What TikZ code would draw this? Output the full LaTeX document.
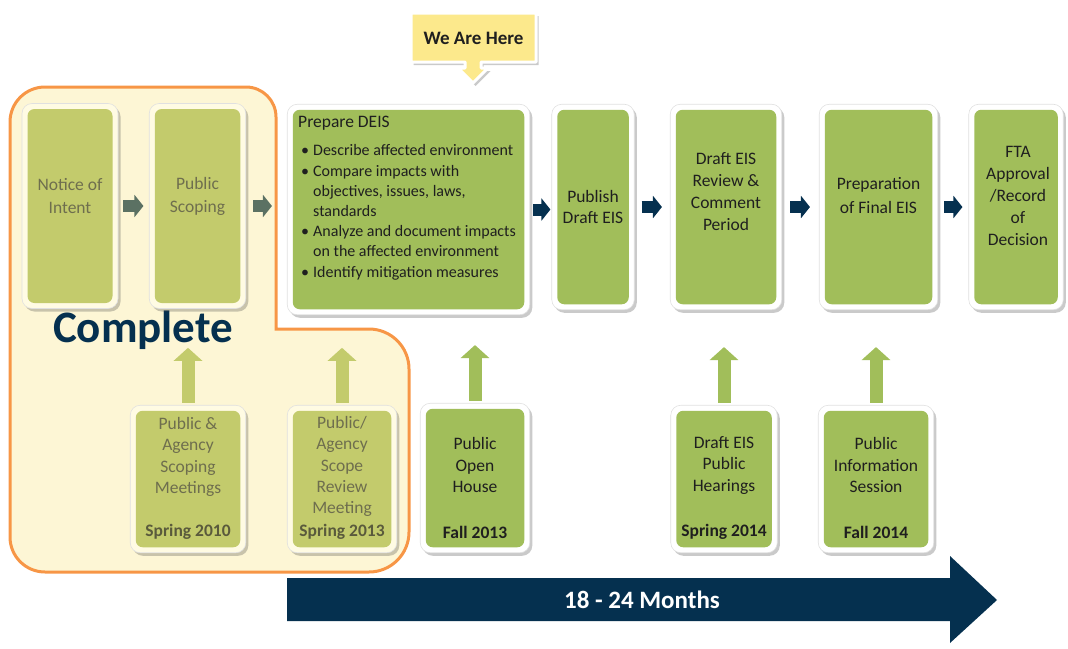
\documentclass[tikz,border=0pt]{standalone}
\usepackage{fontspec}
\setmainfont{Carlito}
\usetikzlibrary{arrows.meta,shadows}
\definecolor{fadegreen}{HTML}{C3CB6C}
\definecolor{fadeframe}{HTML}{FFFBE3}
\definecolor{fadetext}{HTML}{6E6E4E}
\definecolor{fadedate}{HTML}{5A5A3C}
\definecolor{activegreen}{HTML}{A1BE5A}
\definecolor{navy}{HTML}{05304F}
\definecolor{smallarrow}{HTML}{5B7163}
\definecolor{orangeline}{HTML}{F79646}
\definecolor{cream}{HTML}{FDF6D5}
\definecolor{hereyellow}{HTML}{FCE98C}
\definecolor{darktext}{HTML}{1F1F1F}
\begin{document}
\begin{tikzpicture}[x=1pt,y=-1pt,
  myshadow/.style={drop shadow={shadow xshift=2.5pt,shadow yshift=-3pt,opacity=0.28,fill=black!75}},
  boxbase/.style={rounded corners=10pt, inner sep=0pt, draw=black!12, line width=0.6pt, myshadow},
  fadebox/.style={boxbase, fill=fadeframe,
    path picture={\fill[fadegreen, rounded corners=7pt]
      ([shift={(5.5pt,-5.5pt)}]path picture bounding box.north west) rectangle
      ([shift={(-5.5pt,5.5pt)}]path picture bounding box.south east);}},
  activebox/.style={boxbase, fill=white,
    path picture={\fill[activegreen, rounded corners=7pt]
      ([shift={(5.5pt,-5.5pt)}]path picture bounding box.north west) rectangle
      ([shift={(-5.5pt,5.5pt)}]path picture bounding box.south east);}},
  toptext/.style={font=\fontsize{17.5}{23}\selectfont, align=center, inner sep=0pt},
  bottext/.style={font=\fontsize{17.5}{21.5}\selectfont, align=center, inner sep=0pt},
  datetext/.style={font=\fontsize{17.5}{21}\selectfont\bfseries, inner sep=0pt},
  fadearrow/.style={line width=12pt, draw=smallarrow, -{Triangle[length=9pt,width=22pt]}},
  navyarrow/.style={line width=12pt, draw=navy, -{Triangle[length=9pt,width=22pt]}},
  uparrow/.style={line width=13pt, -{Triangle[length=13pt,width=28pt]}},
]
\useasboundingbox (0,0) rectangle (1068,648);

% Complete region
\draw[line width=3pt, draw=orangeline, fill=cream]
  (10,537) -- (10,122) arc[start angle=180,end angle=270,radius=35]
  -- (246,87) arc[start angle=270,end angle=360,radius=30]
  -- (276,329) -- (369,329) arc[start angle=270,end angle=360,radius=40]
  -- (409,532) arc[start angle=0,end angle=90,radius=40]
  -- (45,572) arc[start angle=90,end angle=180,radius=35] -- cycle;
\node[font=\fontsize{45}{45}\selectfont\bfseries, text=navy, inner sep=0pt] (complete) at (143,330) {Complete};

% Top boxes
\node[fadebox, minimum width=96pt, minimum height=205pt] (noi) at (70,206) {};
\node[fadebox, minimum width=96.5pt, minimum height=205pt] (ps) at (197.5,206) {};
\node[activebox, minimum width=242.5pt, minimum height=210.5pt] (deis) at (408.5,209.5) {};
\node[activebox, minimum width=82.5pt, minimum height=205.5pt] (pub) at (593,207) {};
\node[activebox, minimum width=111.5pt, minimum height=205.5pt] (rev) at (726,207) {};
\node[activebox, minimum width=118.5pt, minimum height=205.5pt] (prep) at (878.5,207) {};
\node[activebox, minimum width=94.5pt, minimum height=205.5pt] (fta) at (1016,207) {};

% Bottom boxes
\node[fadebox, minimum width=115.5pt, minimum height=147.5pt] (pa1) at (188,479) {};
\node[fadebox, minimum width=109.5pt, minimum height=147.5pt] (pa2) at (342,479) {};
\node[activebox, minimum width=109.5pt, minimum height=149.5pt] (poh) at (475,478) {};
\node[activebox, minimum width=106.5pt, minimum height=147.5pt] (hear) at (724,479) {};
\node[activebox, minimum width=115.5pt, minimum height=147.5pt] (info) at (876,479) {};

% Top texts
\node[toptext, text=fadetext] (noit) at (70,196) {Notice of\\Intent};
\node[toptext, text=fadetext] (pst) at (197.5,196) {Public\\Scoping};
\node[toptext, text=darktext, font=\fontsize{17.5}{20.5}\selectfont] (pubt) at (593,207) {Publish\\Draft EIS};
\node[toptext, text=darktext, font=\fontsize{17.5}{22}\selectfont] (revt) at (726,192) {Draft EIS\\Review \&\\Comment\\Period};
\node[toptext, text=darktext, font=\fontsize{17.5}{24}\selectfont] (prept) at (878.5,196) {Preparation\\of Final EIS};
\node[toptext, text=darktext, font=\fontsize{17.5}{22}\selectfont] (ftat) at (1018,196) {FTA\\Approval\\/Record\\of\\Decision};

\node[anchor=west, inner sep=0pt, text=darktext, font=\fontsize{17.5}{21}\selectfont] (deistitle) at (298,123) {Prepare DEIS};
\node[anchor=north west, inner sep=0pt, align=left, text=darktext, font=\fontsize{16}{20.2}\selectfont] (deisbul) at (301,144.5)
 {\makebox[12pt][l]{\textbullet}Describe affected environment\\
  \makebox[12pt][l]{\textbullet}Compare impacts with\\
  \hspace*{12pt}objectives, issues, laws,\\
  \hspace*{12pt}standards\\
  \makebox[12pt][l]{\textbullet}Analyze and document impacts\\
  \hspace*{12pt}on the affected environment\\
  \makebox[12pt][l]{\textbullet}Identify mitigation measures};

% Bottom texts
\node[bottext, text=fadetext] (pa1t) at (188,457) {Public \&\\Agency\\Scoping\\Meetings};
\node[datetext, text=fadedate] (pa1d) at (188,532) {Spring 2010};
\node[bottext, text=fadetext, font=\fontsize{17.5}{21.2}\selectfont] (pa2t) at (342,466.5) {Public/\\Agency\\Scope\\Review\\Meeting};
\node[datetext, text=fadedate] (pa2d) at (342,532) {Spring 2013};
\node[bottext, text=darktext] (poht) at (475,465) {Public\\Open\\House};
\node[datetext, text=darktext] (pohd) at (475,532) {Fall 2013};
\node[bottext, text=darktext] (heart) at (724,465) {Draft EIS\\Public\\Hearings};
\node[datetext, text=darktext] (heard) at (724,532) {Spring 2014};
\node[bottext, text=darktext] (infot) at (876,465) {Public\\Information\\Session};
\node[datetext, text=darktext] (infod) at (876,532) {Fall 2014};

% Horizontal arrows
\draw[fadearrow, shorten <=5pt, shorten >=5.5pt] (noi.east) -- (noi.east -| ps.west);
\draw[fadearrow, shorten <=7pt, shorten >=15pt] (ps.east) -- (ps.east -| deis.west);
\draw[navyarrow, shorten <=3pt, shorten >=1pt] (deis.east) -- (deis.east -| pub.west);
\draw[navyarrow, shorten <=7pt, shorten >=8pt] (pub.east) -- (pub.east -| rev.west);
\draw[navyarrow, shorten <=8pt, shorten >=9pt] (rev.east) -- (rev.east -| prep.west);
\draw[navyarrow, shorten <=6pt, shorten >=6pt] (prep.east) -- (prep.east -| fta.west);

% Up arrows
\draw[uparrow, draw=fadegreen, shorten <=2pt, shorten >=39pt] (pa1.north) -- (pa1.north |- ps.south);
\draw[uparrow, draw=fadegreen, shorten <=2pt, shorten >=39pt] (pa2.north) -- (pa2.north |- ps.south);
\draw[uparrow, draw=activegreen, shorten <=2pt, shorten >=30pt] (poh.north) -- (poh.north |- deis.south);
\draw[uparrow, draw=activegreen, shorten <=2pt, shorten >=37pt] (hear.north) -- (hear.north |- rev.south);
\draw[uparrow, draw=activegreen, shorten <=2pt, shorten >=37pt] (info.north) -- (info.north |- prep.south);

% We Are Here callout
\draw[line width=3pt, draw=white, fill=hereyellow, line join=round, myshadow]
  (411,13) -- (536,13) -- (536,62) -- (481,62) -- (481,68) -- (488,68) -- (473,83)
  -- (458,68) -- (465,68) -- (465,62) -- (411,62) -- cycle;
\node[font=\fontsize{19}{19}\selectfont\bfseries, text=darktext, inner sep=0pt] (here) at (473.5,38) {We Are Here};

% Timeline arrow
\fill[navy] (287,578) -- (950,578) -- (950,556) -- (997,600) -- (950,643) -- (950,621) -- (287,621) -- cycle;
\node[font=\fontsize{25}{25}\selectfont\bfseries, text=white, inner sep=0pt] (months) at (642,600) {18 - 24 Months};
\end{tikzpicture}
\end{document}
